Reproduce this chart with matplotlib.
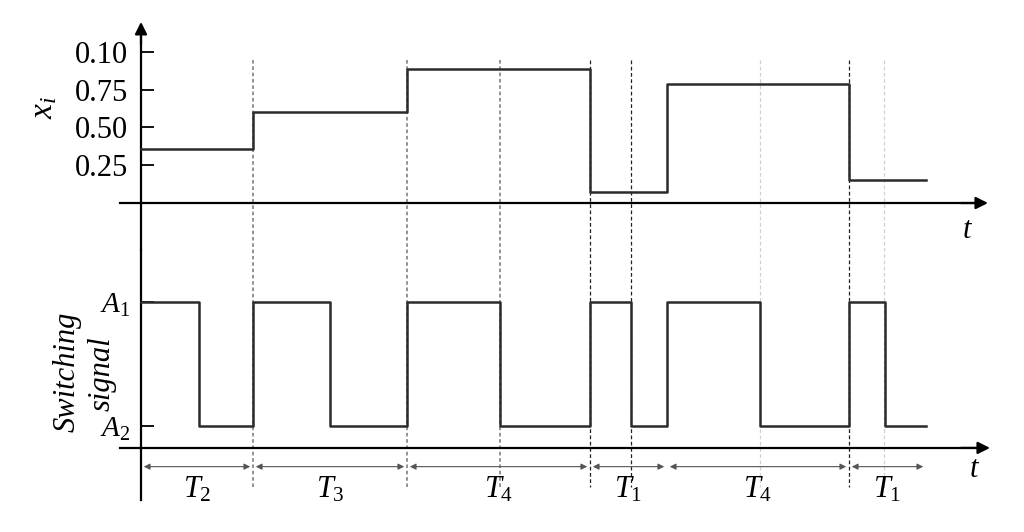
import matplotlib.pyplot as plt

plt.rcParams['font.family'] = 'Liberation Serif'
plt.rcParams['mathtext.fontset'] = 'custom'
plt.rcParams['mathtext.rm'] = 'Liberation Serif'
plt.rcParams['mathtext.it'] = 'Liberation Serif:italic'

# interval edges (time units) and the x_i level held in each interval
t_edges = [0, 11.2, 26.6, 44.9, 52.6, 70.8, 78.5]
x_levels = [0.36, 0.605, 0.89, 0.072, 0.785, 0.15]
interval_names = ['$T_2$', '$T_3$', '$T_4$', '$T_1$', '$T_4$', '$T_1$']

# switching signal, 1 -> A1, 0 -> A2
sw_times = [0, 5.8, 11.2, 18.9, 26.6, 35.9, 44.9, 49.0, 52.6, 61.9, 70.8, 74.4, 78.5]
sw_states = [1, 0, 1, 0, 1, 0, 1, 0, 1, 0, 1, 0]

ytick_vals = [0.25, 0.5, 0.75, 1.0]
ytick_labels = ['0.25', '0.50', '0.75', '0.10']   # sic, as in the original
sw_ticks = [1, 0]
sw_labels = ['$A_1$', '$A_2$']

# dashed guide lines and how dark each one is
guide_t = [11.2, 26.6, 35.9, 44.9, 49.0, 61.9, 70.8, 74.3]
guide_kind = ['gray', 'gray', 'gray', 'dark', 'dark', 'light', 'dark', 'light']

guide_styles = {
    'gray': dict(color='#8a8a8a', ls=(0, (2, 1.5)), lw=1.3),
    'dark': dict(color='#222222', ls=(0, (3, 2)), lw=0.9),
    'light': dict(color='#d0d0d0', ls=(0, (3, 2)), lw=0.9),
}
line_col = '#2b2b2b'

fig = plt.figure(figsize=(10.24, 5.32), dpi=100)
ax1 = fig.add_axes([0, 282 / 532, 1, 250 / 532])
ax2 = fig.add_axes([0, 0, 1, 282 / 532])

for ax in (ax1, ax2):
    ax.set_xlim(-14.1, 88.3)
    ax.patch.set_alpha(0)
    ax.spines['top'].set_visible(False)
    ax.spines['right'].set_visible(False)
    ax.spines['left'].set_position(('data', 0))
    ax.spines['left'].set_linewidth(1.6)
    ax.spines['bottom'].set_linewidth(1.6)
    ax.set_xticks([])
    ax.tick_params(axis='y', direction='in', length=9, width=1.3)

ax1.set_ylim(-0.311, 1.344)
ax2.set_ylim(-0.855, 1.419)

# top panel axes
ax1.spines['bottom'].set_position(('data', 0))
ax1.spines['bottom'].set_bounds(-2.1, 83.5)
ax1.spines['left'].set_bounds(-0.311, 1.1)
ax1.set_yticks(ytick_vals, ytick_labels)
ax1.tick_params(axis='y', pad=9, labelsize=22)
arrow_kw = dict(arrowstyle='-|>', color='black', lw=1.6, mutation_scale=18,
                shrinkA=0, shrinkB=0)
ax1.annotate('', xy=(0, 1.199), xytext=(0, 1.05), arrowprops=arrow_kw,
             annotation_clip=False)
ax1.annotate('', xy=(84.7, 0), xytext=(82, 0), arrowprops=arrow_kw,
             annotation_clip=False)

# bottom panel axes
ax2.spines['bottom'].set_position(('data', -0.177))
ax2.spines['bottom'].set_bounds(-2.1, 84.0)
ax2.spines['left'].set_bounds(-0.597, 1.419)
ax2.set_yticks(sw_ticks, sw_labels)
ax2.tick_params(axis='y', pad=8, labelsize=21)
ax2.annotate('', xy=(84.9, -0.177), xytext=(82, -0.177), arrowprops=arrow_kw,
             annotation_clip=False)

# guide lines
for t, kind in zip(guide_t, guide_kind):
    ax1.plot([t, t], [0.947, -1.881], clip_on=False, zorder=1, **guide_styles[kind])

# signals
ax1.step(t_edges, x_levels + [x_levels[-1]], where='post', color=line_col, lw=1.8,
         zorder=3)
ax2.step(sw_times, sw_states + [sw_states[-1]], where='post', color=line_col, lw=1.8,
         zorder=3)

# interval arrows and names
for i, name in enumerate(interval_names):
    a, b = t_edges[i], t_edges[i + 1]
    ax2.annotate('', xy=(b, -0.328), xytext=(a, -0.328),
                 arrowprops=dict(arrowstyle='<|-|>', color='#555555', lw=0.8,
                                 mutation_scale=9, shrinkA=2, shrinkB=2),
                 annotation_clip=False)
    ax2.text((a + b) / 2, -0.516, name, ha='center', va='center', fontsize=22)

ax1.text(82.7, -0.179, '$t$', ha='center', va='center', fontsize=22)
ax2.text(83.4, -0.355, '$t$', ha='center', va='center', fontsize=22)

fig.text(44 / 1024, 1 - 107 / 532, '$x_i$', rotation=90, ha='center', va='center',
         fontsize=24)
# the two-line label, one text per line
fig.text(67 / 1024, 1 - 372 / 532, 'Switching', rotation=90, style='italic',
         ha='center', va='center', fontsize=22)
fig.text(102 / 1024, 1 - 374 / 532, 'signal', rotation=90, style='italic',
         ha='center', va='center', fontsize=22)

fig.savefig('out.png', dpi=100)
